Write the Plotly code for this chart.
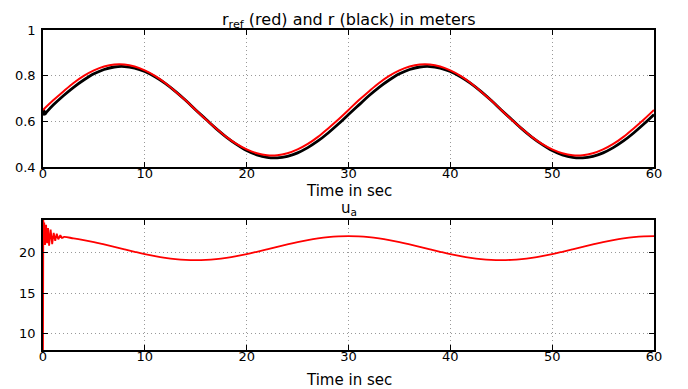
import plotly.graph_objects as go
from plotly.subplots import make_subplots

# ---- top panel data (time in s) ----
t_r = list(range(0, 61))
r_ref_cycle = [0.650, 0.692, 0.731, 0.768, 0.799, 0.823, 0.840, 0.849, 0.849, 0.840,
               0.823, 0.799, 0.768, 0.731, 0.692, 0.650, 0.608, 0.569, 0.532, 0.501,
               0.477, 0.460, 0.451, 0.451, 0.460, 0.477, 0.501, 0.532, 0.569, 0.608]
r_ref = r_ref_cycle + r_ref_cycle + [0.650]

t_r_black = [0, 0.1, 0.2, 0.35] + list(range(1, 61))
r_black_cycle = [0.630, 0.671, 0.712, 0.749, 0.781, 0.808, 0.827, 0.838, 0.840, 0.833,
                 0.818, 0.795, 0.766, 0.731, 0.692, 0.650, 0.609, 0.568, 0.531, 0.499,
                 0.472, 0.453, 0.442, 0.440, 0.447, 0.462, 0.485, 0.514, 0.549, 0.588]
r_black_all = r_black_cycle + r_black_cycle + [0.630]
r_black = [0.625, 0.648, 0.632, 0.640] + r_black_all[1:]

# ---- bottom panel data ----
t_u_start = [0, 0.03, 0.08, 0.12, 0.2, 0.3, 0.4, 0.5, 0.6, 0.75, 0.9, 1.05, 1.2, 1.35, 1.5, 1.7, 1.9]
u_start = [7.9, 24.1, 22.5, 23.8, 21.0, 23.5, 21.2, 23.1, 20.9, 22.9, 21.1, 22.5, 21.5, 22.4, 21.7, 22.2, 21.8]
u_cycle = [22.10, 22.07, 21.97, 21.81, 21.60, 21.35, 21.06, 20.76, 20.44, 20.14,
           19.85, 19.60, 19.39, 19.23, 19.13, 19.10, 19.13, 19.23, 19.39, 19.60,
           19.85, 20.14, 20.44, 20.76, 21.06, 21.35, 21.60, 21.81, 21.97, 22.07]
u_all = u_cycle + u_cycle + [22.10]
t_u_main = t_u_start[-1:] + list(range(2, 61))
u_main = u_start[-1:] + u_all[2:]

x_ticks = [0, 10, 20, 30, 40, 50, 60]

fig = make_subplots(rows=2, cols=1)

fig.add_trace(go.Scatter(x=t_r_black, y=r_black, mode="lines",
                         line=dict(color="black", width=2.8, shape="spline"), showlegend=False), row=1, col=1)
fig.add_trace(go.Scatter(x=t_r, y=r_ref, mode="lines",
                         line=dict(color="#ff0000", width=2, shape="spline"), showlegend=False), row=1, col=1)
fig.add_trace(go.Scatter(x=t_u_start, y=u_start, mode="lines",
                         line=dict(color="#ff0000", width=1.8), showlegend=False), row=2, col=1)
fig.add_trace(go.Scatter(x=t_u_main, y=u_main, mode="lines",
                         line=dict(color="#ff0000", width=1.8, shape="spline"), showlegend=False), row=2, col=1)

fam = "DejaVu Sans, Verdana, sans-serif"
tick_font = dict(family=fam, size=13, color="black")
label_font = dict(family=fam, size=15, color="black")
title_font = dict(family=fam, size=16, color="black")

axis_common = dict(showline=True, linecolor="black", linewidth=1.5, mirror="ticks",
                   ticks="inside", ticklen=5, tickcolor="black",
                   showgrid=True, gridcolor="#999999", griddash="1px,3px", gridwidth=1,
                   zeroline=False, tickfont=tick_font, automargin=False)

fig.update_xaxes(range=[0, 60], tickvals=x_ticks, ticklabelstandoff=-6, **axis_common)
fig.update_yaxes(ticklabelstandoff=3, **axis_common)
fig.update_yaxes(range=[0.4, 1.0], tickvals=[0.4, 0.6, 0.8, 1.0], ticktext=["0.4", "0.6", "0.8", "1"], row=1, col=1)
fig.update_yaxes(range=[7.9, 24.1], tickvals=[10, 15, 20], row=2, col=1)

W, H = 680, 381
fig.update_layout(
    width=W, height=H,
    margin=dict(l=35, r=34, t=0, b=0, autoexpand=False),
    paper_bgcolor="white", plot_bgcolor="white",
    font=label_font,
    xaxis=dict(domain=[0, 1]),
    yaxis=dict(domain=[1 - 159 / H, 1 - 22 / H]),
    xaxis2=dict(domain=[0, 1]),
    yaxis2=dict(domain=[1 - 342 / H, 1 - 212 / H]),
)

ann = [
    dict(text="r<sub>ref</sub> (red) and r (black) in meters", y=0, anchor="top", font=title_font),
    dict(text="Time in sec", y=183, anchor="middle", font=label_font),
    dict(text="u<sub>a</sub>", y=201, anchor="middle", font=label_font),
    dict(text="Time in sec", y=372, anchor="middle", font=label_font),
]
for a in ann:
    fig.add_annotation(text=a["text"], x=0.5, y=1 - a["y"] / H, xref="paper", yref="paper",
                       showarrow=False, xanchor="center", yanchor=a["anchor"], font=a["font"])

fig.write_html("out.html")
